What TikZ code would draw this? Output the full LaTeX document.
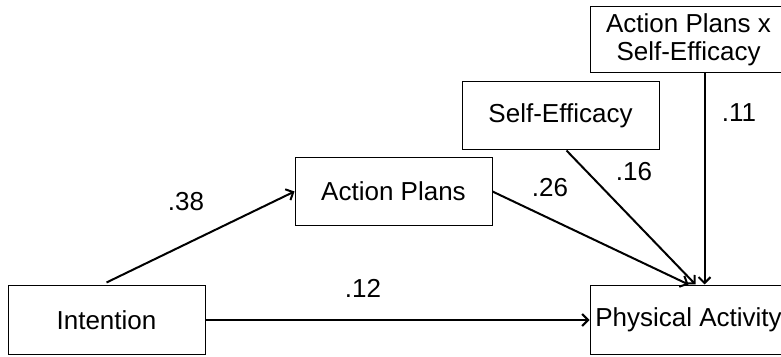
\documentclass[tikz,border=0pt]{standalone}
\usepackage{fontspec}
\setmainfont{Liberation Sans}
\usetikzlibrary{arrows.meta}
\begin{document}
\begin{tikzpicture}[x=1pt,y=1pt,
  box/.style={draw, line width=1pt, minimum width=197pt, minimum height=68pt, inner sep=0pt, align=center, font=\fontsize{26}{27}\selectfont},
  lbl/.style={font=\fontsize{26}{27}\selectfont, inner sep=0pt},
  path/.style={line width=2pt, -{Straight Barb[length=6pt,width=12pt,line width=2pt]}}]
\clip (0,0) rectangle (781,356);
\fill[white] (0,0) rectangle (781,356);
\node[box] (int) at (106.5,36) {Intention};
\node[box] (ap) at (393.5,164.5) {Action Plans};
\node[box] (se) at (560.5,240) {Self-Efficacy};
\node[box, minimum height=66pt] (apse) at (688.5,316) {Action Plans x\\[1pt]Self-Efficacy};
\node[box] (pa) at (688.5,36) {Physical Activity};
\draw[path] ([yshift=3pt]int.north) -- (ap.west);
\draw[path] (int.east) -- (pa.west);
\draw[path] (ap.east) -- ([yshift=1pt]pa.north);
\draw[path] ([xshift=6pt]se.south) -- ([xshift=7pt,yshift=1pt]pa.north);
\draw[path] ([xshift=16pt]apse.south) -- ([xshift=16pt,yshift=1pt]pa.north);
\node[lbl] (l38) at (186,154) {.38};
\node[lbl] (l12) at (363,68) {.12};
\node[lbl] (l26) at (550,168) {.26};
\node[lbl] (l16) at (634,184) {.16};
\node[lbl] (l11) at (739,243) {.11};
\end{tikzpicture}
\end{document}
